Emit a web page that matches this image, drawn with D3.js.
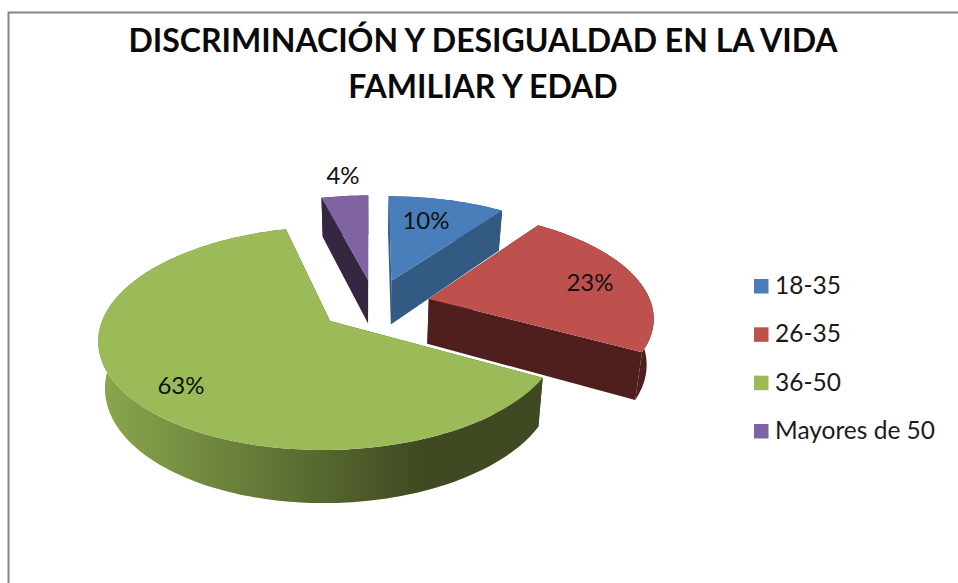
<!DOCTYPE html>
<html><head><meta charset="utf-8">
<script src="https://cdn.jsdelivr.net/npm/d3@7/dist/d3.min.js"></script>
<style>html,body{margin:0;padding:0;background:#fff;overflow:hidden}svg{display:block}text{font-family:Lato,"Open Sans",sans-serif}</style>
</head><body><svg id="c" width="958" height="583"></svg>
<script>
const titleLines = ["DISCRIMINACIÓN Y DESIGUALDAD EN LA VIDA", "FAMILIAR Y EDAD"];
const categories = ["18-35", "26-35", "36-50", "Mayores de 50"];
const values = [10, 23, 63, 4];
const labels = ["10%", "23%", "63%", "4%"];
const topColors = ["#4a7ebb", "#be504d", "#9bbb59", "#8064a2"];
const sideColors = ["#335a83", "#4f1f1e", "#3f4a22", "#34273f"];

const svg = d3.select("#c");
svg.append("path").attr("d","M8.5,600V12.5H958").attr("fill","none").attr("stroke","#868686").attr("stroke-width",2);

const defs = svg.append("defs");
const g = defs.append("linearGradient").attr("id","greenRim").attr("gradientUnits","userSpaceOnUse")
  .attr("x1",97).attr("x2",420).attr("y1",0).attr("y2",0);
g.append("stop").attr("offset",0).attr("stop-color","#8ba84e");
g.append("stop").attr("offset",1).attr("stop-color","#3f4a22");

// perspective pie
const pie = d3.pie().value(d=>d).sort(null)(values);
const dir = a => [Math.sin(a), -Math.cos(a)];
const mid = d => (d.startAngle+d.endAngle)/2;
const explode = 0.25, K = 0.155;
const big = pie[2], bigDir = dir(mid(big));
const C = [-explode*bigDir[0], -explode*bigDir[1]];
const sx = d3.scaleLinear().domain([0,1]).range([330,558]);
const sy = d3.scaleLinear().domain([0,1]).range([321,430]);
const XV = 370;
function proj(u,v){
  const w = 1-K*v;
  return [XV + (sx(u)-XV)/w, 321 + (sy(v)-321)/w];
}
function low(p){ return [XV+(p[0]-XV)*0.975, p[1]+46+(p[1]-321)*0.055]; }
function slicePts(d){
  const m = dir(mid(d));
  const c = [C[0]+explode*m[0], C[1]+explode*m[1]];
  const n = Math.max(2, Math.ceil((d.endAngle-d.startAngle)/0.02));
  const arc = d3.range(n+1).map(i=>{
    const a = d.startAngle+(d.endAngle-d.startAngle)*i/n, e = dir(a);
    return proj(c[0]+e[0], c[1]+e[1]);
  });
  return {c, apex:proj(c[0],c[1]), arc};
}
const line = d3.line();
const geo = pie.map(slicePts);
function drawSides(i, fill){
  const s = geo[i];
  const rim = s.arc.concat(s.arc.map(low).reverse());
  svg.append("path").attr("d",line(rim)+"Z").attr("fill",fill);
  const st = [s.apex, s.arc[0], low(s.arc[0]), low(s.apex)];
  const en = [s.apex, s.arc[s.arc.length-1], low(s.arc[s.arc.length-1]), low(s.apex)];
  svg.append("path").attr("d",line(st)+"Z").attr("fill",sideColors[i]);
  svg.append("path").attr("d",line(en)+"Z").attr("fill",sideColors[i]);
}
function drawTop(i){
  const s = geo[i];
  svg.append("path").attr("d",line([s.apex].concat(s.arc))+"Z").attr("fill",topColors[i]);
}
[3,0,1,2].forEach(i=>{
  drawSides(i, i===2 ? "url(#greenRim)" : sideColors[i]);
  drawTop(i);
});

// title
svg.selectAll(".t").data(titleLines).join("text").attr("class","t")
  .attr("x",483).attr("y",(d,i)=>52+i*46).attr("text-anchor","middle")
  .attr("font-size",32).attr("font-weight",700).attr("fill","#0a0a0a").text(d=>d);

// data labels
const labelPos = [[426,229],[590,291],[181,394],[343,184]];
svg.selectAll(".l").data(labels).join("text").attr("class","l")
  .attr("x",(d,i)=>labelPos[i][0]).attr("y",(d,i)=>labelPos[i][1]).attr("text-anchor","middle")
  .attr("font-size",24).attr("fill","#111").text(d=>d);

// legend
const ly = d3.scalePoint().domain(categories).range([286,431]);
const leg = svg.selectAll(".k").data(categories).join("g").attr("class","k");
leg.append("rect").attr("x",754).attr("y",d=>ly(d)-7).attr("width",14.5).attr("height",14.5)
  .attr("fill",(d,i)=>topColors[i]);
leg.append("text").attr("x",775).attr("y",d=>ly(d)+8).attr("font-size",24.5).attr("fill","#1a1a1a").text(d=>d);
</script></body></html>
